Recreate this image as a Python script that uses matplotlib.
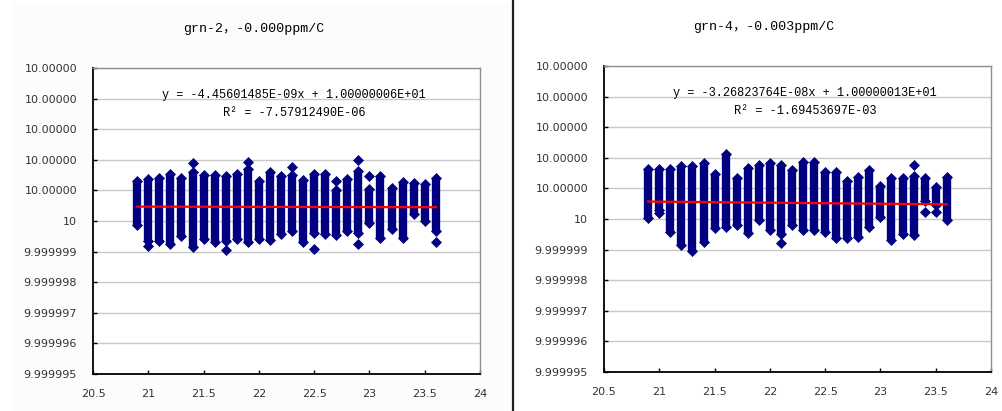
import matplotlib
matplotlib.use("Agg")
import matplotlib.pyplot as plt
from matplotlib.patches import Rectangle
from matplotlib.lines import Line2D

# ---------------- data ----------------
temps = [20.9, 21.0, 21.1, 21.2, 21.3, 21.4, 21.5, 21.6, 21.7, 21.8,
         21.9, 22.0, 22.1, 22.2, 22.3, 22.4, 22.5, 22.6, 22.7, 22.8,
         22.9, 23.0, 23.1, 23.2, 23.3, 23.4, 23.5, 23.6]

# column extents, offsets from 10 in units of 1e-6
g2_hi = [1.30, 1.37, 1.39, 1.53, 1.39, 1.60, 1.51, 1.51, 1.48, 1.53,
         1.70, 1.31, 1.60, 1.48, 1.50, 1.33, 1.54, 1.54, 1.01, 1.37,
         1.62, 1.04, 1.48, 1.08, 1.26, 1.23, 1.21, 1.41]
g2_lo = [-0.13, -0.66, -0.64, -0.75, -0.48, -0.86, -0.58, -0.70, -0.66, -0.60,
         -0.67, -0.60, -0.63, -0.41, -0.33, -0.68, -0.38, -0.44, -0.45, -0.33,
         -0.40, -0.08, -0.57, -0.27, -0.55, 0.22, 0.00, -0.33]
g2_out_x = [21.0, 21.4, 21.7, 21.9, 22.3, 22.5, 22.7, 22.9, 22.9, 23.0, 23.6]
g2_out_y = [-0.82, 1.89, -0.96, 1.92, 1.76, -0.90, 1.32, 2.00, -0.75, 1.48, -0.68]
g2_trend = [0.47, 0.45]

g4_hi = [1.63, 1.65, 1.63, 1.74, 1.74, 1.82, 1.46, 2.11, 1.35, 1.67,
         1.76, 1.82, 1.76, 1.60, 1.87, 1.87, 1.54, 1.54, 1.24, 1.38,
         1.60, 1.09, 1.33, 1.33, 1.41, 1.33, 1.05, 1.38]
g4_lo = [0.04, 0.30, -0.43, -0.85, -1.04, -0.74, -0.30, -0.25, -0.20, -0.47,
         -0.03, -0.36, -0.50, -0.20, -0.36, -0.36, -0.43, -0.63, -0.63, -0.58,
         -0.25, 0.08, -0.68, -0.50, -0.52, 0.60, 0.45, -0.03]
g4_out_x = [21.0, 22.1, 23.3, 23.4, 23.5]
g4_out_y = [0.18, -0.78, 1.76, 0.24, 0.24]
g4_trend = [0.57, 0.48]

titles = ["grn-2\uff0c-0.000ppm/C", "grn-4\uff0c-0.003ppm/C"]
equations = ["y = -4.45601485E-09x + 1.00000006E+01",
             "y = -3.26823764E-08x + 1.00000013E+01"]
r2_texts = ["R\u00b2 = -7.57912490E-06", "R\u00b2 = -1.69453697E-03"]

y_tick_offsets = [5, 4, 3, 2, 1, 0, -1, -2, -3, -4, -5]
y_tick_labels = ["10.00000", "10.00000", "10.00000", "10.00000", "10.00000", "10",
                 "9.999999", "9.999998", "9.999997", "9.999996", "9.999995"]
x_ticks = [20.5, 21, 21.5, 22, 22.5, 23, 23.5, 24]
x_tick_labels = ["20.5", "21", "21.5", "22", "22.5", "23", "23.5", "24"]

BASE = 10.0
SCALE = 1e-6


def val(o):
    return BASE + o * SCALE


# ---------------- figure ----------------
W, H = 1003, 411
fig = plt.figure(figsize=(W / 100, H / 100), dpi=100)
fig.patch.set_facecolor("white")

# light panel background on the left half
fig.add_artist(Rectangle((13 / W, 0), (511 - 13) / W, 1 - 3 / H,
                         transform=fig.transFigure, facecolor="#fbfcfb",
                         edgecolor="none", zorder=0))
# separator
fig.add_artist(Line2D([513 / W, 513 / W], [0, 1], transform=fig.transFigure,
                      color="#202020", lw=1.6))

navy = "#000080"
mono = ["Liberation Mono", "Noto Sans CJK SC"]

panels = [
    dict(rect=(93 / W, (H - 374) / H, 387 / W, 306 / H), hi=g2_hi, lo=g2_lo,
         ox=g2_out_x, oy=g2_out_y, tr=g2_trend, title=titles[0], eq=equations[0],
         r2=r2_texts[0], tx=254, ty=29, ex=294, ey=95, ry=113),
    dict(rect=(604 / W, (H - 372) / H, 387 / W, 306 / H), hi=g4_hi, lo=g4_lo,
         ox=g4_out_x, oy=g4_out_y, tr=g4_trend, title=titles[1], eq=equations[1],
         r2=r2_texts[1], tx=764, ty=27, ex=805, ey=93, ry=111),
]

MS = 4.6
for p in panels:
    ax = fig.add_axes(p["rect"])
    ax.set_facecolor("white")
    ax.set_xlim(20.5, 24)
    ax.set_ylim(val(-5), val(5))

    yt = [val(o) for o in y_tick_offsets]
    ax.set_yticks(yt)
    ax.set_yticklabels(y_tick_labels)
    ax.set_xticks(x_ticks)
    ax.set_xticklabels(x_tick_labels)
    ax.tick_params(axis="both", direction="in", length=3, width=1,
                   labelsize=8, colors="#000000", labelcolor="#333333")
    ax.tick_params(axis="y", pad=11.5)
    ax.tick_params(axis="x", pad=11)
    ax.grid(axis="y", color="#c8c8c8", lw=1)
    ax.set_axisbelow(True)
    for s in ["left", "bottom"]:
        ax.spines[s].set_color("#000000")
        ax.spines[s].set_linewidth(1.3)
    for s in ["top", "right"]:
        ax.spines[s].set_color("#909090")
        ax.spines[s].set_linewidth(1.0)

    lo_v = [val(v) for v in p["lo"]]
    hi_v = [val(v) for v in p["hi"]]
    ax.vlines(temps, lo_v, hi_v, colors=navy, lw=6.0, capstyle="butt", zorder=3)
    ax.plot(temps, lo_v, ls="none", marker="D", ms=MS, color=navy, mew=0.5, zorder=3)
    ax.plot(temps, hi_v, ls="none", marker="D", ms=MS, color=navy, mew=0.5, zorder=3)
    ax.plot(p["ox"], [val(v) for v in p["oy"]], ls="none", marker="D", ms=MS,
            color=navy, mew=0.5, zorder=3)
    ax.plot([temps[0], temps[-1]], [val(p["tr"][0]), val(p["tr"][1])],
            color="#ff0000", lw=1.6, zorder=4)

    fig.text(p["tx"] / W, 1 - p["ty"] / H, p["title"], ha="center", va="center",
             fontsize=9.5, family=mono, color="#000000")
    fig.text(p["ex"] / W, 1 - p["ey"] / H, p["eq"], ha="center", va="center",
             fontsize=8.6, family=mono, color="#000000")
    fig.text(p["ex"] / W, 1 - p["ry"] / H, p["r2"], ha="center", va="center",
             fontsize=8.6, family=mono, color="#000000")

fig.savefig("out.png", dpi=100, facecolor=fig.get_facecolor())
